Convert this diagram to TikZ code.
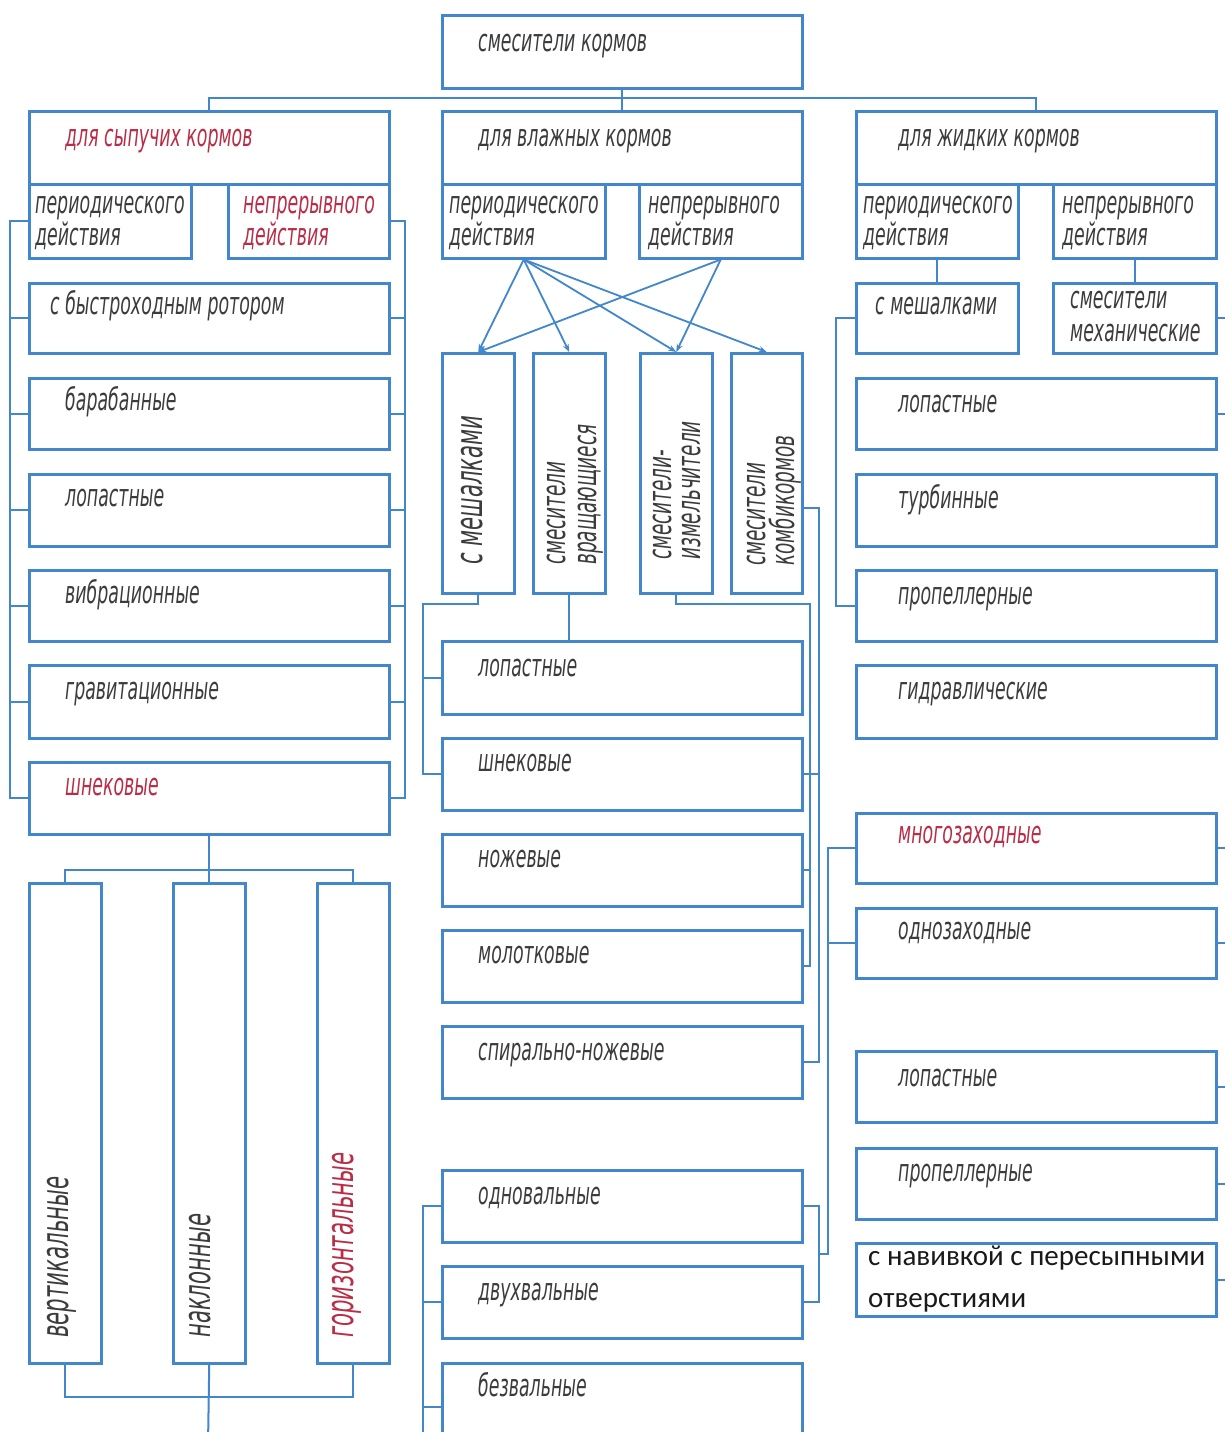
\documentclass[tikz,border=0pt]{standalone}
\usepackage{fontspec}
\usetikzlibrary{arrows.meta,calc}
\newfontfamily\gost[FakeStretch=0.56]{DejaVu Sans}
\newfontfamily\calib{Carlito}
\definecolor{bxblue}{RGB}{66,134,204}
\definecolor{txgray}{RGB}{60,60,60}
\definecolor{txred}{RGB}{185,45,70}
\newcommand{\mkbox}[5]{\node[bx, minimum width={#4-#2}, minimum height={#5-#3}, anchor=north west] (#1) at (#2,#3) {};}
\newcommand{\mktxt}[5][txgray]{\node[tx, text=#1] (#2) at (#3,#4) {#5};}
\newcommand{\mkvtxt}[5][txgray]{\node[vtx, text=#1] (#2) at (#3,#4) {#5};}
\newcommand{\mkvstxt}[5][txgray]{\node[vstx, text=#1] (#2) at (#3,#4) {#5};}
\begin{document}
\begin{tikzpicture}[x=1pt,y=-1pt,
  bx/.style={draw=bxblue, line width=2.5pt, fill=white, inner sep=0pt, rectangle},
  ln/.style={draw=bxblue, line width=2pt},
  arr/.style={draw=bxblue, line width=1.8pt, -{Stealth[length=8pt,width=6pt]}},
  tx/.style={anchor=base west, inner sep=0pt, font=\gost\itshape\fontsize{31}{34}\selectfont},
  vtx/.style={anchor=base west, inner sep=0pt, rotate=90, font=\gost\itshape\fontsize{38}{40}\selectfont},
  vstx/.style={anchor=base west, inner sep=0pt, rotate=90, font=\gost\itshape\fontsize{33}{36}\selectfont},
  ctx/.style={anchor=base west, inner sep=0pt, text={rgb,255:red,25;green,25;blue,25}, font=\calib\fontsize{29}{33}\selectfont}]
\useasboundingbox (0,0) rectangle (1225,1432);
\fill[white] (0,0) rectangle (1225,1432);
\clip (0,0) rectangle (1225,1432);

% ---------- boxes ----------
\mkbox{top}{441}{14}{801}{87}
\mkbox{bulk}{28}{110}{388}{183}
\mkbox{bulkP}{28}{183}{190}{257}
\mkbox{bulkC}{227}{183}{388}{257}
\mkbox{wet}{441}{110}{801}{183}
\mkbox{wetP}{441}{183}{604}{257}
\mkbox{wetC}{638}{183}{801}{257}
\mkbox{liq}{855}{110}{1215}{183}
\mkbox{liqP}{855}{183}{1017}{257}
\mkbox{liqC}{1052}{183}{1215}{257}

\mkbox{L1}{28}{282}{388}{352}
\mkbox{L2}{28}{377}{388}{448}
\mkbox{L3}{28}{473}{388}{545}
\mkbox{L4}{28}{569}{388}{640}
\mkbox{L5}{28}{664}{388}{737}
\mkbox{L6}{28}{761}{388}{833}
\mkbox{V1}{28}{882}{100}{1362}
\mkbox{V2}{172}{882}{244}{1362}
\mkbox{V3}{316}{882}{388}{1362}

\mkbox{M1}{441}{352}{513}{592}
\mkbox{M2}{532}{352}{604}{592}
\mkbox{M3}{639}{352}{711}{592}
\mkbox{M4}{730}{352}{801}{592}
\mkbox{N1}{441}{640}{801}{713}
\mkbox{N2}{441}{737}{801}{809}
\mkbox{N3}{441}{833}{801}{905}
\mkbox{N4}{441}{929}{801}{1001}
\mkbox{N5}{441}{1025}{801}{1097}
\mkbox{N6}{441}{1169}{801}{1241}
\mkbox{N7}{441}{1265}{801}{1337}
\mkbox{N8}{441}{1362}{801}{1450}

\mkbox{R0a}{855}{282}{1017}{352}
\mkbox{R0b}{1052}{282}{1215}{352}
\mkbox{R1}{855}{377}{1215}{448}
\mkbox{R2}{855}{473}{1215}{545}
\mkbox{R3}{855}{569}{1215}{640}
\mkbox{R4}{855}{664}{1215}{737}
\mkbox{R5}{855}{812}{1215}{882}
\mkbox{R6}{855}{907}{1215}{977}
\mkbox{R7}{855}{1050}{1215}{1121}
\mkbox{R8}{855}{1147}{1215}{1218}
\mkbox{R9}{855}{1242}{1215}{1315}

% ---------- helper coordinates ----------
\coordinate (busTop) at (621,98);
\coordinate (lbx) at (10,0);
\coordinate (rbx) at (405,0);
\coordinate (vtop) at (208,870);
\coordinate (vbot) at (208,1397);
\coordinate (vend) at (208,1445);
\coordinate (mlx) at (423,0);
\coordinate (m1y) at (0,604);
\coordinate (mrx) at (810,0);
\coordinate (mrx2) at (819,0);
\coordinate (m4y) at (0,508);
\coordinate (rlx) at (828,0);
\coordinate (rrx) at (836,0);
\coordinate (mbend) at (423,1445);
\coordinate (edgeR) at (1240,0);

% ---------- connectors ----------
\draw[ln] (top.south) -- (wet.north);
\draw[ln] (bulk.north) |- (busTop) -| (liq.north);

\draw[ln] (bulkP.west) -- (bulkP.west -| lbx) -- (L6.west -| lbx) -- (L6.west);
\foreach \n in {L1,L2,L3,L4,L5} \draw[ln] (\n.west) -- (\n.west -| lbx);
\draw[ln] (bulkC.east) -- (bulkC.east -| rbx) -- (L6.east -| rbx) -- (L6.east);
\foreach \n in {L1,L2,L3,L4,L5} \draw[ln] (\n.east) -- (\n.east -| rbx);

\draw[ln] (L6.south) -- (V2.north);
\draw[ln] (V1.north) |- (vtop) -| (V3.north);
\draw[ln] (V1.south) |- (vbot) -| (V3.south);
\draw[ln] (V2.south) -- (vend);

\foreach \t in {M1,M2,M3,M4} \draw[arr] (wetP.south) -- (\t.north);
\draw[arr] (wetC.south) -- (M1.north);
\draw[arr] (wetC.south) -- (M3.north);

\draw[ln] (M1.south) -- (M1.south |- m1y) -| (N2.west -| mlx) -- (N2.west);
\draw[ln] (N1.west) -- (N1.west -| mlx);
\draw[ln] (M2.south) -- (M2.south |- N1.north);
\draw[ln] (M3.south) -- (M3.south |- m1y) -| (N4.east -| mrx) -- (N4.east);
\draw[ln] (N2.east) -- (N2.east -| mrx2);
\draw[ln] (N3.east) -- (N3.east -| mrx);
\draw[ln] (M4.east |- m4y) -- (m4y -| mrx2) -- (N5.east -| mrx2) -- (N5.east);

\draw[ln] (N6.east) -- (N6.east -| mrx2) -- (N7.east -| mrx2) -- (N7.east);
\coordinate (twin) at ($(N6.east -| mrx2)!0.5!(N7.east -| mrx2)$);
\draw[ln] (twin) -- (twin -| rlx) -- (R5.west -| rlx) -- (R5.west);
\draw[ln] (R6.west) -- (R6.west -| rlx);

\draw[ln] (N6.west) -- (N6.west -| mlx) -- (mbend);
\draw[ln] (N7.west) -- (N7.west -| mlx);
\draw[ln] (N8.west) -- (N8.west -| mlx);

\draw[ln] (liqP.south) -- (R0a.north);
\draw[ln] (liqC.south) -- (R0b.north);
\draw[ln] (R0a.west) -- (R0a.west -| rrx) -- (R3.west -| rrx) -- (R3.west);
\foreach \n in {R0b,R1,R5,R6,R7,R8,R9} \draw[ln] (\n.east) -- (\n.east -| edgeR);

% ---------- texts ----------
\mktxt{tTop}{478}{51}{смесители кормов}
\mktxt[txred]{tBulk}{65}{146}{для сыпучих кормов}
\mktxt{tWet}{478}{146}{для влажных кормов}
\mktxt{tLiq}{898}{146}{для жидких кормов}

\mktxt{tBP1}{35}{213}{периодического}
\mktxt{tBP2}{35}{245}{действия}
\mktxt[txred]{tBC1}{243}{213}{непрерывного}
\mktxt[txred]{tBC2}{243}{245}{действия}
\mktxt{tWP1}{449}{213}{периодического}
\mktxt{tWP2}{449}{245}{действия}
\mktxt{tWC1}{648}{213}{непрерывного}
\mktxt{tWC2}{648}{245}{действия}
\mktxt{tLP1}{863}{213}{периодического}
\mktxt{tLP2}{863}{245}{действия}
\mktxt{tLC1}{1062}{213}{непрерывного}
\mktxt{tLC2}{1062}{245}{действия}

\mktxt{tL1}{50}{314}{с быстроходным ротором}
\mktxt{tL2}{65}{410}{барабанные}
\mktxt{tL3}{65}{506}{лопастные}
\mktxt{tL4}{65}{603}{вибрационные}
\mktxt{tL5}{65}{699}{гравитационные}
\mktxt[txred]{tL6}{65}{795}{шнековые}

\mkvtxt{tV1}{68}{1338}{вертикальные}
\mkvtxt{tV2}{210}{1338}{наклонные}
\mkvtxt[txred]{tV3}{353}{1338}{горизонтальные}

\mkvtxt{tM1}{482}{565}{с мешалками}
\mkvstxt{tM2a}{565}{565}{смесители}
\mkvstxt{tM2b}{596}{565}{вращающиеся}
\mkvstxt{tM3a}{671}{560}{смесители-}
\mkvstxt{tM3b}{700}{560}{измельчители}
\mkvstxt{tM4a}{765}{566}{смесители}
\mkvstxt{tM4b}{794}{566}{комбикормов}

\mktxt{tN1}{478}{676}{лопастные}
\mktxt{tN2}{478}{771}{шнековые}
\mktxt{tN3}{478}{867}{ножевые}
\mktxt{tN4}{478}{963}{молотковые}
\mktxt{tN5}{478}{1060}{спирально-ножевые}
\mktxt{tN6}{478}{1204}{одновальные}
\mktxt{tN7}{478}{1300}{двухвальные}
\mktxt{tN8}{478}{1396}{безвальные}

\mktxt{tR0a}{875}{314}{с мешалками}
\mktxt{tR0b1}{1070}{308}{смесители}
\mktxt{tR0b2}{1070}{341}{механические}
\mktxt{tR1}{898}{412}{лопастные}
\mktxt{tR2}{898}{508}{турбинные}
\mktxt{tR3}{898}{604}{пропеллерные}
\mktxt{tR4}{898}{699}{гидравлические}
\mktxt[txred]{tR5}{898}{843}{многозаходные}
\mktxt{tR6}{898}{939}{однозаходные}
\mktxt{tR7}{898}{1086}{лопастные}
\mktxt{tR8}{898}{1181}{пропеллерные}
\node[ctx] (tR9a) at (868,1265) {с навивкой с пересыпными};
\node[ctx] (tR9b) at (868,1307) {отверстиями};
\end{tikzpicture}
\end{document}
